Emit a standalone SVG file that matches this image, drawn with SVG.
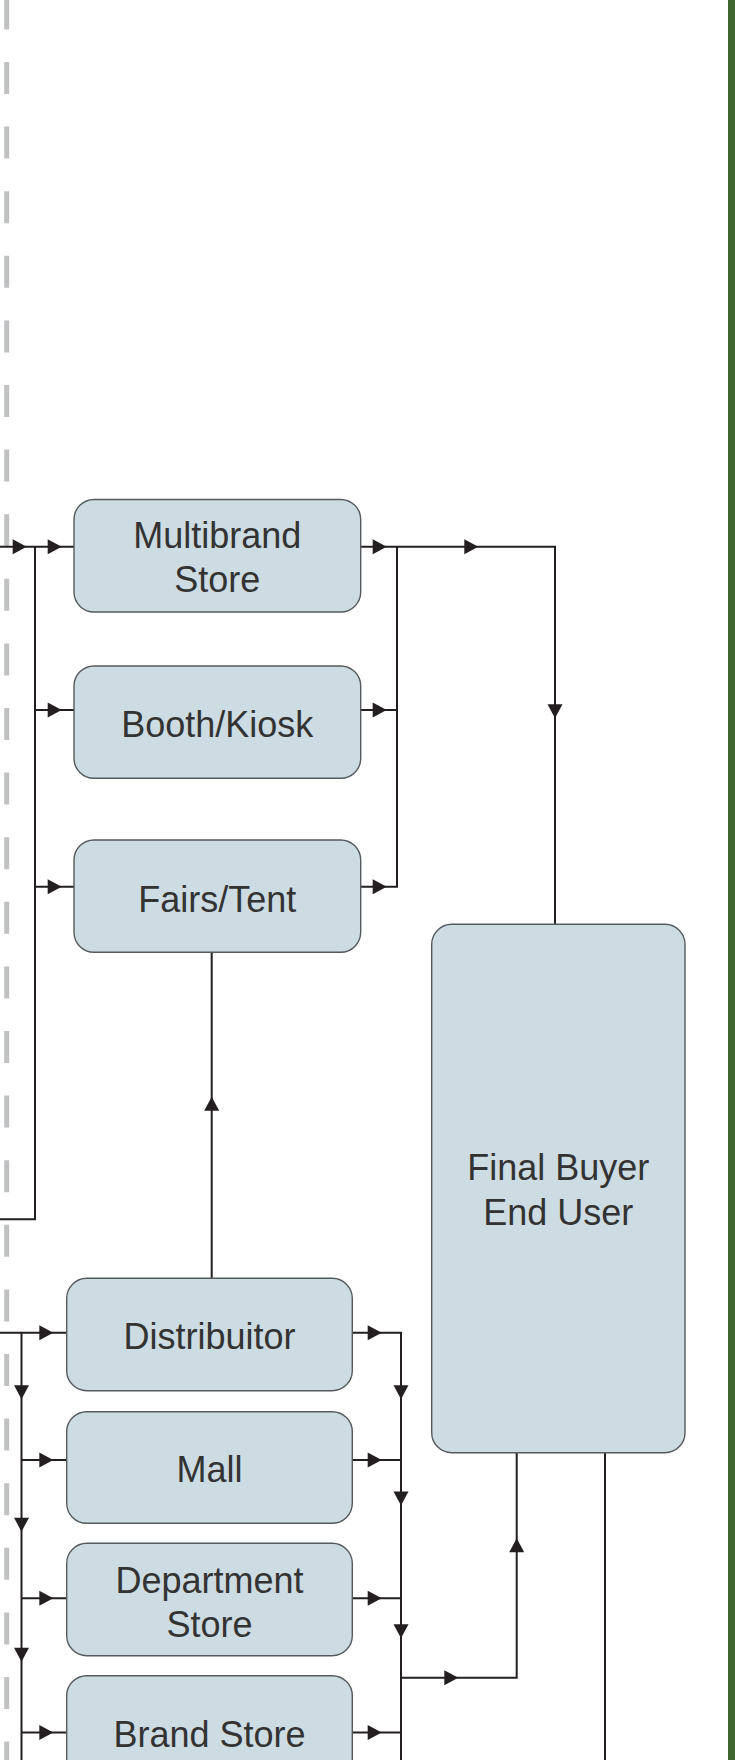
<svg xmlns="http://www.w3.org/2000/svg" width="735" height="1760" viewBox="0 0 735 1760">
<style>
.box{fill:#cddbe2;stroke:#555a5e;stroke-width:1.4}
.lbl{font-family:"Liberation Sans",Arial,sans-serif;font-size:36px;fill:#333333;text-anchor:middle}
.ln{fill:none;stroke:#231f20;stroke-width:2}
.ah{fill:#231f20}
</style>
<defs>
<path id="ar" d="M0,0 L-14,-7.5 L-14,7.5 Z"/>
</defs>
<rect x="0" y="0" width="735" height="1760" fill="#ffffff"/>
<line x1="6.7" y1="-2.6" x2="6.7" y2="1760" stroke="#bfc1c3" stroke-width="5" stroke-dasharray="32 32.6"/>
<rect x="728" y="0" width="7" height="1760" fill="#3e662e"/>

<g id="connectors">
<path class="ln" d="M0,546.7 H74 M35,546.7 V1219.3 H0 M35,710 H74 M35,886.7 H74"/>
<path class="ln" d="M360.7,546.7 H555 V924.3 M397,546.7 V886.7 H360.7 M360.7,710 H397"/>
<path class="ln" d="M211.7,1278.3 V952.3"/>
<path class="ln" d="M0,1332.7 H66.7 M21.5,1332.7 V1760 M21.5,1460 H66.7 M21.5,1598.3 H66.7 M21.5,1732.5 H66.7"/>
<path class="ln" d="M352.3,1332.7 H401 V1760 M352.3,1460 H401 M352.3,1598.3 H401 M352.3,1732.5 H401 M401,1677.7 H516.7 V1452.7"/>
<path class="ln" d="M605,1452.7 V1760"/>
<g class="ah">
<use href="#ar" transform="translate(26.7,546.7)"/>
<use href="#ar" transform="translate(61.7,546.7)"/>
<use href="#ar" transform="translate(61.7,710)"/>
<use href="#ar" transform="translate(61.7,886.7)"/>
<use href="#ar" transform="translate(386.7,546.7)"/>
<use href="#ar" transform="translate(478.3,546.7)"/>
<use href="#ar" transform="translate(386.7,710)"/>
<use href="#ar" transform="translate(386.7,886.7)"/>
<use href="#ar" transform="translate(555,718.3) rotate(90)"/>
<use href="#ar" transform="translate(211.7,1096.7) rotate(-90)"/>
<use href="#ar" transform="translate(53.3,1332.7)"/>
<use href="#ar" transform="translate(53.3,1460)"/>
<use href="#ar" transform="translate(53.3,1598.3)"/>
<use href="#ar" transform="translate(53.3,1732.5)"/>
<use href="#ar" transform="translate(21.5,1399.3) rotate(90)"/>
<use href="#ar" transform="translate(21.5,1531.7) rotate(90)"/>
<use href="#ar" transform="translate(21.5,1661.7) rotate(90)"/>
<use href="#ar" transform="translate(381.7,1332.7)"/>
<use href="#ar" transform="translate(381.7,1460)"/>
<use href="#ar" transform="translate(381.7,1598.3)"/>
<use href="#ar" transform="translate(381.7,1732.5)"/>
<use href="#ar" transform="translate(401,1399.3) rotate(90)"/>
<use href="#ar" transform="translate(401,1505.5) rotate(90)"/>
<use href="#ar" transform="translate(401,1638.3) rotate(90)"/>
<use href="#ar" transform="translate(458.3,1677.7)"/>
<use href="#ar" transform="translate(516.7,1538.3) rotate(-90)"/>
</g>
</g>

<g id="multibrand">
<rect class="box" x="74" y="499.5" width="286.7" height="112.5" rx="20"/>
<text class="lbl" x="217.3" y="548.3">Multibrand</text>
<text class="lbl" x="217.3" y="591.7">Store</text>
</g>
<g id="booth">
<rect class="box" x="74" y="666" width="286.7" height="112.3" rx="20"/>
<text class="lbl" x="217.3" y="736.7">Booth/Kiosk</text>
</g>
<g id="fairs">
<rect class="box" x="74" y="840" width="286.7" height="112.3" rx="20"/>
<text class="lbl" x="217.3" y="911.7">Fairs/Tent</text>
</g>
<g id="distribuitor">
<rect class="box" x="66.7" y="1278.3" width="285.6" height="112.4" rx="20"/>
<text class="lbl" x="209.5" y="1349.3">Distribuitor</text>
</g>
<g id="mall">
<rect class="box" x="66.7" y="1411.7" width="285.6" height="111.6" rx="20"/>
<text class="lbl" x="209.5" y="1481.7">Mall</text>
</g>
<g id="department">
<rect class="box" x="66.7" y="1543.3" width="285.6" height="112.4" rx="20"/>
<text class="lbl" x="209.5" y="1592.7">Department</text>
<text class="lbl" x="209.5" y="1636.7">Store</text>
</g>
<g id="brand">
<rect class="box" x="66.7" y="1675.7" width="285.6" height="112.4" rx="20"/>
<text class="lbl" x="209.5" y="1746.7">Brand Store</text>
</g>
<g id="finalbuyer">
<rect class="box" x="431.7" y="924.3" width="253.3" height="528.4" rx="20"/>
<text class="lbl" x="558.3" y="1180">Final Buyer</text>
<text class="lbl" x="558.3" y="1225">End User</text>
</g>
</svg>
